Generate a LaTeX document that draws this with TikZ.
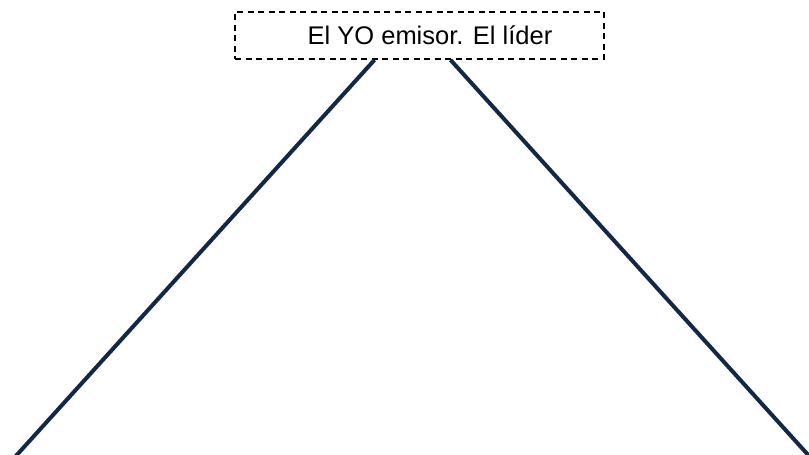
\documentclass[tikz,border=0pt]{standalone}
\usepackage{fontspec}
\setmainfont{Liberation Sans}
\usepackage{xcolor}
\usetikzlibrary{positioning,calc}
\definecolor{azuloscuro}{RGB}{18,40,70}
\tikzset{
    caja/.style={draw=black, dash pattern=on 6pt off 4.5pt, line width=1.8pt,
        minimum width=369pt, minimum height=47pt, inner sep=0pt,
        font=\fontsize{25.5}{30}\selectfont},
    rama/.style={draw=azuloscuro, line width=4pt}
}

\begin{document}
\begin{tikzpicture}[x=1pt,y=1pt]
    \useasboundingbox (0,0) rectangle (809,455);
    \node[caja] (lider) at (419.5,419.5) {\hspace*{21pt}El YO emisor. El líder};
    \coordinate (izq) at (15,-2); % extremo izquierdo
    \coordinate (der) at (810,-2); % extremo derecho
    \draw[rama] ($(lider.south)+(-45,0)$) -- (izq); % rama izquierda
    \draw[rama] ($(lider.south)+(31,0)$) -- (der); % rama derecha
\end{tikzpicture}
\end{document}
